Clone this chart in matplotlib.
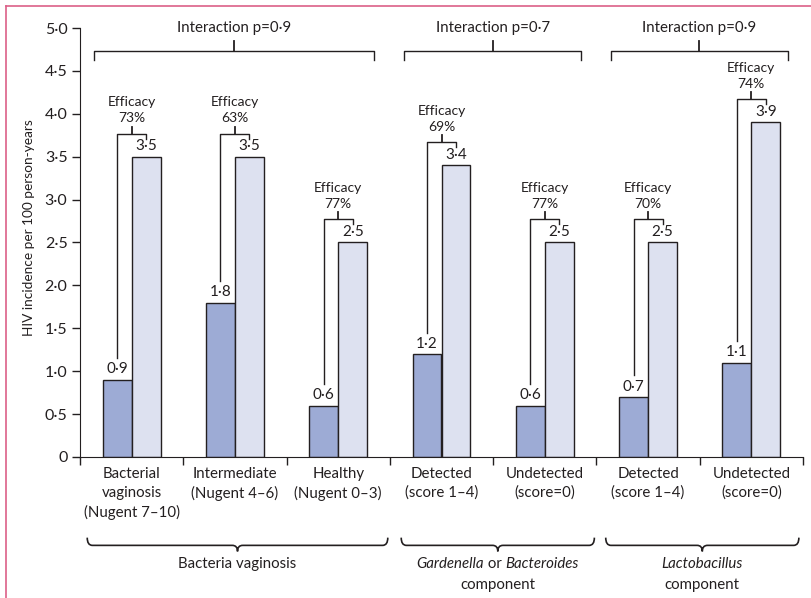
import numpy as np
import matplotlib.pyplot as plt
from matplotlib.path import Path
from matplotlib.patches import PathPatch
from matplotlib.lines import Line2D

plt.rcParams['font.family'] = ['Lato', 'DejaVu Sans']
plt.rcParams['font.size'] = 10.8

categories = ["Bacterial\nvaginosis\n(Nugent 7\u201310)", "Intermediate\n(Nugent 4\u20136)",
              "Healthy\n(Nugent 0\u20133)", "Detected\n(score 1\u20134)", "Undetected\n(score=0)",
              "Detected\n(score 1\u20134)", "Undetected\n(score=0)"]
dapivirine = [0.9, 1.8, 0.6, 1.2, 0.6, 0.7, 1.1]
placebo = [3.5, 3.5, 2.5, 3.4, 2.5, 2.5, 3.9]
efficacy = [73, 63, 77, 69, 77, 70, 74]
interaction = ["Interaction p=0\u00b79", "Interaction p=0\u00b77", "Interaction p=0\u00b79"]
groups = [(0, 2), (3, 4), (5, 6)]
yticks = [0, 0.5, 1.0, 1.5, 2.0, 2.5, 3.0, 3.5, 4.0, 4.5, 5.0]

def fmt(v):
    return "0" if v == 0 else f"{v:.1f}".replace(".", "\u00b7")

ink = '#231f20'
dark = '#9dabd5'
light = '#dde1f0'

fig = plt.figure(figsize=(8.11, 5.98), dpi=100)
ax = fig.add_axes([80/811, 1-457/598, 723/811, 429/598])

x = np.arange(len(categories))
w = 0.28
ax.bar(x - w/2, dapivirine, w, color=dark, edgecolor=ink, linewidth=1)
ax.bar(x + w/2, placebo, w, color=light, edgecolor=ink, linewidth=1)

for i in range(len(categories)):
    d, p = dapivirine[i], placebo[i]
    ax.text(i - w/2, d + 0.04, fmt(d), ha='center', va='bottom', color=ink, fontsize=11)
    ax.text(i + w/2, p + 0.04, fmt(p), ha='center', va='bottom', color=ink, fontsize=11)
    top = p + 0.27
    ax.plot([i - w/2, i - w/2, i + w/2, i + w/2], [d + 0.25, top, top, p + 0.21],
            color=ink, lw=1, clip_on=False)
    ax.plot([i, i], [top, top + 0.08], color=ink, lw=1.3, clip_on=False)
    ax.text(i, top + 0.11, f"Efficacy\n{efficacy[i]}%", ha='center', va='bottom',
            color=ink, linespacing=1.4, fontsize=10)

# interaction brackets
for (a, b), lab in zip(groups, interaction):
    x0, x1 = a - 0.36, b + 0.35
    xc = (x0 + x1) / 2
    ax.plot([x0, x0, x1, x1], [4.63, 4.73, 4.73, 4.63], color=ink, lw=1, clip_on=False)
    ax.plot([xc, xc], [4.73, 4.85], color=ink, lw=1.3, clip_on=False)
    ax.text(xc, 4.92, lab, ha='center', va='bottom', color=ink)

ax.set_xlim(-0.5, 6.5)
ax.set_ylim(0, 5)
ax.set_yticks(yticks)
ax.set_yticklabels([fmt(v) for v in yticks], fontsize=11.5)
ax.set_xticks(np.arange(-0.5, 7, 1))
ax.set_xticklabels([])
ax.set_xticks(x, minor=True)
ax.set_xticklabels(categories, minor=True, linespacing=1.45, fontsize=10.8)
ax.tick_params(axis='x', which='minor', length=0, pad=7, colors=ink)
ax.tick_params(axis='x', which='major', length=6, width=1, colors=ink)
ax.tick_params(axis='y', length=6, width=1, colors=ink, pad=3)
for s in ['top', 'right']:
    ax.spines[s].set_visible(False)
for s in ['left', 'bottom']:
    ax.spines[s].set_color(ink)
ax.set_ylabel("HIV incidence per 100 person-years", color=ink, fontsize=9.8)
ax.yaxis.set_label_coords(-(80 - 35) / 723, (457 - 228) / 429)

# curly braces under groups
def brace(x0, x1, y_top=-0.94, y_line=-1.03, y_tip=-1.1, d=0.05):
    xc = (x0 + x1) / 2
    verts = [(x0, y_top), (x0, y_line), (x0 + d, y_line),
             (xc - d, y_line), (xc, y_line), (xc, y_tip),
             (xc, y_line), (xc + d, y_line),
             (x1 - d, y_line), (x1, y_line), (x1, y_top)]
    codes = [Path.MOVETO, Path.CURVE3, Path.CURVE3,
             Path.LINETO, Path.CURVE3, Path.CURVE3,
             Path.CURVE3, Path.CURVE3,
             Path.LINETO, Path.CURVE3, Path.CURVE3]
    ax.add_patch(PathPatch(Path(verts, codes), fill=False, edgecolor=ink, lw=1.2, clip_on=False))

brace(-0.43, 2.48)
brace(2.61, 4.48)
brace(4.59, 6.46)

ax.text(1.02, -1.25, "Bacteria vaginosis", ha='center', va='center', color=ink)

# mixed italic / roman group label, laid out by measured widths
fig.canvas.draw()
r = fig.canvas.get_renderer()
widths = []
for s, st in [("Gardenella", 'italic'), (" or ", 'normal'), ("Bacteroides", 'italic')]:
    tmp = ax.text(0, 0, s, style=st)
    widths.append(tmp.get_window_extent(r).width)
    tmp.remove()
upx = 723 / 7
xs = 3.545 - sum(widths) / 2 / upx
ax.text(xs, -1.25, "Gardenella", ha='left', va='center', color=ink, style='italic')
ax.text(xs + widths[0] / upx, -1.25, " or ", ha='left', va='center', color=ink)
ax.text(xs + (widths[0] + widths[1]) / upx, -1.25, "Bacteroides", ha='left', va='center',
        color=ink, style='italic')
ax.text(3.545, -1.49, "component", ha='center', va='center', color=ink)
ax.text(5.525, -1.25, "Lactobacillus", ha='center', va='center', color=ink, style='italic')
ax.text(5.525, -1.49, "component", ha='center', va='center', color=ink)

# pink frame
border = '#dc6088'
fig.add_artist(Line2D([6/811, 6/811], [0, 1 - 6/598], color=border, lw=1.2))
fig.add_artist(Line2D([6/811, 1], [1 - 6/598, 1 - 6/598], color=border, lw=1.2))

fig.savefig("out.png", dpi=100)
